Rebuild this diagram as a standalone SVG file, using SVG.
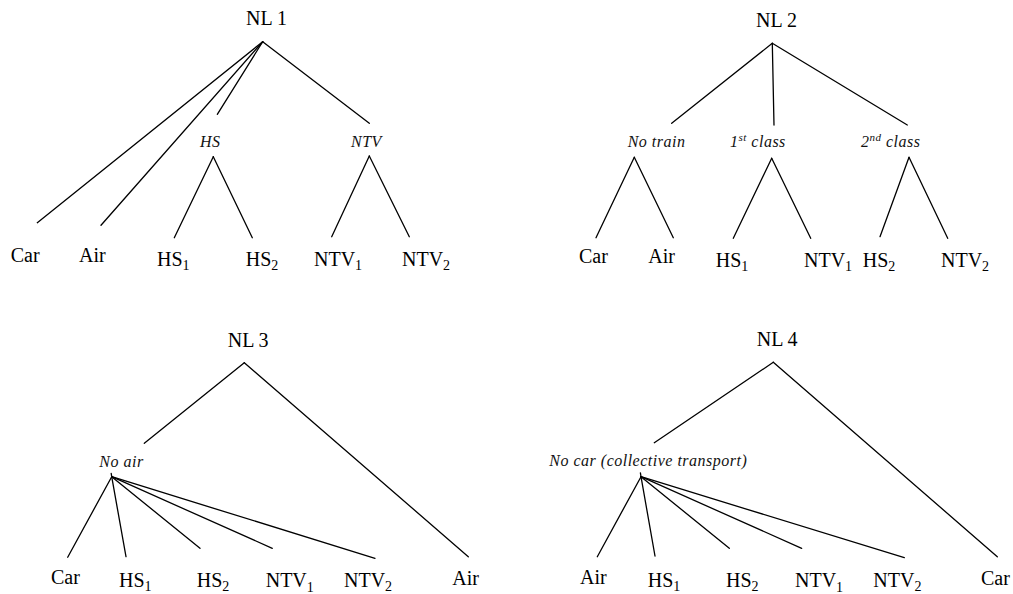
<svg xmlns="http://www.w3.org/2000/svg" width="1013" height="594" viewBox="0 0 1013 594">
  <style>
    .title { font-family: "Liberation Serif", "Times New Roman", serif; font-size: 20px; fill: #000; }
    .alt { font-family: "Liberation Serif", "Times New Roman", serif; font-size: 20px; fill: #000; }
    .nest { font-family: "Liberation Serif", "Times New Roman", serif; font-size: 16px; font-style: italic; letter-spacing: 0.5px; fill: #111; }
    .sub { font-size: 14px; }
    .sup { font-size: 11px; }
    .edges line { stroke: #000; stroke-width: 1.3; stroke-linecap: round; }
  </style>
  <rect width="1013" height="594" fill="#fff"/>

  <!-- tree branches -->
  <g id="connectors" class="edges">
    <!-- NL 1 -->
    <line x1="262.7" y1="41.7" x2="37.3" y2="222.7"/>
    <line x1="262.7" y1="41.7" x2="101" y2="225.3"/>
    <line x1="262.7" y1="41.7" x2="217.3" y2="114.3"/>
    <line x1="262.7" y1="41.7" x2="369.3" y2="123.3"/>
    <line x1="213.3" y1="156.7" x2="174.3" y2="237.7"/>
    <line x1="213.3" y1="156.7" x2="252.3" y2="237.7"/>
    <line x1="369.3" y1="156" x2="331.7" y2="236.7"/>
    <line x1="369.3" y1="156" x2="409.3" y2="236.7"/>
    <!-- NL 2 -->
    <line x1="772.3" y1="43.3" x2="671.7" y2="123.3"/>
    <line x1="772.3" y1="43.3" x2="774" y2="125"/>
    <line x1="772.3" y1="43.3" x2="907.3" y2="125"/>
    <line x1="634.3" y1="157.3" x2="596" y2="237.7"/>
    <line x1="634.3" y1="157.3" x2="673.3" y2="237.7"/>
    <line x1="771.7" y1="158.3" x2="733.3" y2="238.3"/>
    <line x1="771.7" y1="158.3" x2="810.7" y2="238.3"/>
    <line x1="909" y1="157.3" x2="880" y2="236.7"/>
    <line x1="909" y1="157.3" x2="947.7" y2="238.3"/>
    <!-- NL 3 -->
    <line x1="244.3" y1="362.7" x2="144.3" y2="443.3"/>
    <line x1="244.3" y1="362.7" x2="468.3" y2="556.7"/>
    <line x1="111.2" y1="473.3" x2="111.7" y2="476.7"/>
    <line x1="111.7" y1="476.7" x2="67.7" y2="557.3"/>
    <line x1="111.7" y1="476.7" x2="126" y2="556.7"/>
    <line x1="111.7" y1="476.7" x2="200" y2="548.3"/>
    <line x1="111.7" y1="476.7" x2="272.3" y2="548.3"/>
    <line x1="111.7" y1="476.7" x2="375" y2="558.3"/>
    <!-- NL 4 -->
    <line x1="773.3" y1="362.3" x2="654.3" y2="442.7"/>
    <line x1="773.3" y1="362.3" x2="997.3" y2="556.7"/>
    <line x1="640.4" y1="472.8" x2="641" y2="476.7"/>
    <line x1="641" y1="476.7" x2="597.3" y2="556.7"/>
    <line x1="641" y1="476.7" x2="655" y2="556"/>
    <line x1="641" y1="476.7" x2="729.3" y2="548.3"/>
    <line x1="641" y1="476.7" x2="801.7" y2="548.3"/>
    <line x1="641" y1="476.7" x2="904.3" y2="557.7"/>
  </g>

  <!-- NL 1 -->
  <g id="nl1-root"><text class="title" x="246" y="25">NL 1</text></g>
  <g id="nl1-hs"><text class="nest" x="200" y="146.7">HS</text></g>
  <g id="nl1-ntv"><text class="nest" x="351" y="146.7">NTV</text></g>
  <g id="nl1-car"><text class="alt" x="10.7" y="262">Car</text></g>
  <g id="nl1-air"><text class="alt" x="79" y="262">Air</text></g>
  <g id="nl1-hs1"><text class="alt" x="157" y="265.5">HS<tspan class="sub" dy="4.5">1</tspan></text></g>
  <g id="nl1-hs2"><text class="alt" x="245.7" y="265.5">HS<tspan class="sub" dy="4.5">2</tspan></text></g>
  <g id="nl1-ntv1"><text class="alt" x="314" y="265.5">NTV<tspan class="sub" dy="4.5">1</tspan></text></g>
  <g id="nl1-ntv2"><text class="alt" x="402" y="265.5">NTV<tspan class="sub" dy="4.5">2</tspan></text></g>

  <!-- NL 2 -->
  <g id="nl2-root"><text class="title" x="756" y="26.7">NL 2</text></g>
  <g id="nl2-notrain"><text class="nest" x="627.7" y="146.7">No train</text></g>
  <g id="nl2-first"><text class="nest" x="730" y="146.7">1<tspan class="sup" dy="-6">st</tspan><tspan dy="6">  class</tspan></text></g>
  <g id="nl2-second"><text class="nest" x="861" y="146.7">2<tspan class="sup" dy="-6">nd</tspan><tspan dy="6">  class</tspan></text></g>
  <g id="nl2-car"><text class="alt" x="579" y="263.3">Car</text></g>
  <g id="nl2-air"><text class="alt" x="648.3" y="263.3">Air</text></g>
  <g id="nl2-hs1"><text class="alt" x="715.7" y="266.5">HS<tspan class="sub" dy="4.5">1</tspan></text></g>
  <g id="nl2-ntv1"><text class="alt" x="804" y="266.5">NTV<tspan class="sub" dy="4.5">1</tspan></text></g>
  <g id="nl2-hs2"><text class="alt" x="862.7" y="266.5">HS<tspan class="sub" dy="4.5">2</tspan></text></g>
  <g id="nl2-ntv2"><text class="alt" x="941" y="266.5">NTV<tspan class="sub" dy="4.5">2</tspan></text></g>

  <!-- NL 3 -->
  <g id="nl3-root"><text class="title" x="227.7" y="346.7">NL 3</text></g>
  <g id="nl3-noair"><text class="nest" x="99.3" y="466.7">No air</text></g>
  <g id="nl3-car"><text class="alt" x="51" y="583.8">Car</text></g>
  <g id="nl3-hs1"><text class="alt" x="119" y="586.7">HS<tspan class="sub" dy="4.5">1</tspan></text></g>
  <g id="nl3-hs2"><text class="alt" x="196.7" y="586.7">HS<tspan class="sub" dy="4.5">2</tspan></text></g>
  <g id="nl3-ntv1"><text class="alt" x="265.7" y="587.3">NTV<tspan class="sub" dy="4.5">1</tspan></text></g>
  <g id="nl3-ntv2"><text class="alt" x="344" y="586.5">NTV<tspan class="sub" dy="4.5">2</tspan></text></g>
  <g id="nl3-air"><text class="alt" x="452.3" y="584.5">Air</text></g>

  <!-- NL 4 -->
  <g id="nl4-root"><text class="title" x="756.7" y="345.7">NL 4</text></g>
  <g id="nl4-nocar"><text class="nest" x="549.3" y="465.7">No car (collective transport)</text></g>
  <g id="nl4-air"><text class="alt" x="580" y="583.8">Air</text></g>
  <g id="nl4-hs1"><text class="alt" x="647.7" y="586.7">HS<tspan class="sub" dy="4.5">1</tspan></text></g>
  <g id="nl4-hs2"><text class="alt" x="726" y="586.7">HS<tspan class="sub" dy="4.5">2</tspan></text></g>
  <g id="nl4-ntv1"><text class="alt" x="795" y="587.3">NTV<tspan class="sub" dy="4.5">1</tspan></text></g>
  <g id="nl4-ntv2"><text class="alt" x="873.3" y="586.5">NTV<tspan class="sub" dy="4.5">2</tspan></text></g>
  <g id="nl4-car"><text class="alt" x="981" y="584.5">Car</text></g>
</svg>
